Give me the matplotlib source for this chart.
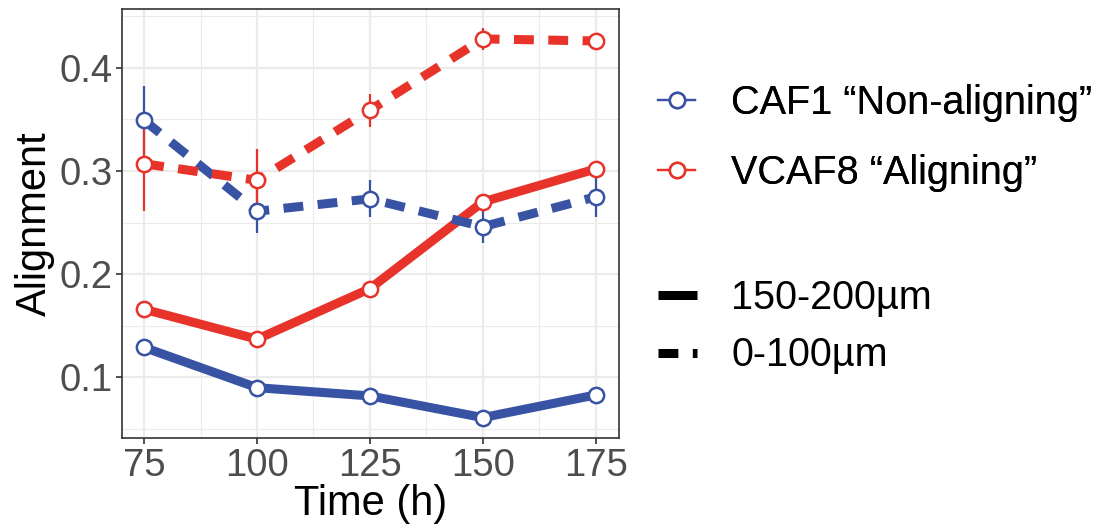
import matplotlib
matplotlib.use('Agg')
import matplotlib.pyplot as plt
from matplotlib.lines import Line2D
from matplotlib.ticker import MultipleLocator

plt.rcParams['font.family'] = ['Liberation Sans', 'DejaVu Sans']

# ── Données ─────────────────────────────────────────────
time_h = [75, 100, 125, 150, 175]

caf1_far = [0.129, 0.090, 0.082, 0.061, 0.083]
caf1_far_err = [0.003, 0.003, 0.002, 0.003, 0.003]
vcaf8_far = [0.166, 0.137, 0.186, 0.270, 0.302]
vcaf8_far_err = [0.004, 0.003, 0.003, 0.003, 0.003]

caf1_near = [0.349, 0.261, 0.273, 0.246, 0.275]
caf1_near_err = [0.033, 0.021, 0.018, 0.016, 0.020]
vcaf8_near = [0.307, 0.291, 0.359, 0.428, 0.426]
vcaf8_near_err = [0.046, 0.030, 0.016, 0.011, 0.004]

group_labels = ['CAF1 \u201cNon-aligning\u201d', 'VCAF8 \u201cAligning\u201d']
dist_labels = ['150-200\u00b5m', '0-100\u00b5m']

BLUE = '#3953A4'
RED = '#E8332A'
GRID = '#EBEBEB'
TXT = '#4D4D4D'

fig = plt.figure(figsize=(11.09, 5.28), dpi=100)
ax = fig.add_axes([0.110, 0.170, 0.448, 0.813])

lw = 6.5
dash = (2.2, 1.6)

series = [
    (caf1_far, caf1_far_err, BLUE, '-'),
    (vcaf8_far, vcaf8_far_err, RED, '-'),
    (caf1_near, caf1_near_err, BLUE, '--'),
    (vcaf8_near, vcaf8_near_err, RED, '--'),
]
for vals, err, col, ls in series:
    ax.errorbar(time_h, vals, yerr=err, fmt='none', ecolor=col,
                elinewidth=1.6, capsize=0, zorder=3)
    ln, = ax.plot(time_h, vals, color=col, linewidth=lw, linestyle=ls,
                  solid_capstyle='butt', zorder=2)
    if ls == '--':
        ln.set_dashes(dash)
    ax.plot(time_h, vals, linestyle='none', marker='o', markersize=11,
            markerfacecolor='white', markeredgecolor=col,
            markeredgewidth=1.8, zorder=4)

ax.set_xlim(70.1, 180.1)
ax.set_ylim(0.041, 0.457)
ax.set_xticks(time_h)
ax.set_yticks([0.1, 0.2, 0.3, 0.4])
ax.xaxis.set_minor_locator(MultipleLocator(12.5))
ax.yaxis.set_minor_locator(MultipleLocator(0.05))
ax.grid(which='major', color=GRID, linewidth=1.6)
ax.grid(which='minor', color=GRID, linewidth=0.8)
ax.set_axisbelow(True)
for s in ax.spines.values():
    s.set_color('#333333')
    s.set_linewidth(1.2)
ax.tick_params(which='major', length=4.5, width=1.2, color='#333333',
               labelsize=27.5, labelcolor=TXT, pad=2.5)
ax.tick_params(which='minor', length=0)
ax.set_xlabel('Time (h)', fontsize=30, labelpad=0)
ax.set_ylabel('Alignment', fontsize=30, labelpad=3)

# ── Légendes ────────────────────────────────────────────
h_grp = [Line2D([], [], color=c, linewidth=1.6, marker='o', markersize=11,
                markerfacecolor='white', markeredgecolor=c,
                markeredgewidth=1.8) for c in (BLUE, RED)]
leg1 = fig.legend(h_grp, group_labels, loc='center left',
                  bbox_to_anchor=(0.561, 1 - 138 / 528), frameon=False,
                  fontsize=28.5, handlelength=0.95, handletextpad=0.9,
                  labelspacing=0.8)

h_dist = [Line2D([], [], color='black', linewidth=lw, solid_capstyle='butt'),
          Line2D([], [], color='black', linewidth=lw, dashes=dash)]
leg2 = fig.legend(h_dist, dist_labels, loc='center left',
                  bbox_to_anchor=(0.561, 1 - 326.5 / 528), frameon=False,
                  fontsize=28.5, handlelength=1.0, handletextpad=0.85,
                  labelspacing=0.5)
fig.add_artist(leg1)

plt.savefig('out.png', dpi=100)
